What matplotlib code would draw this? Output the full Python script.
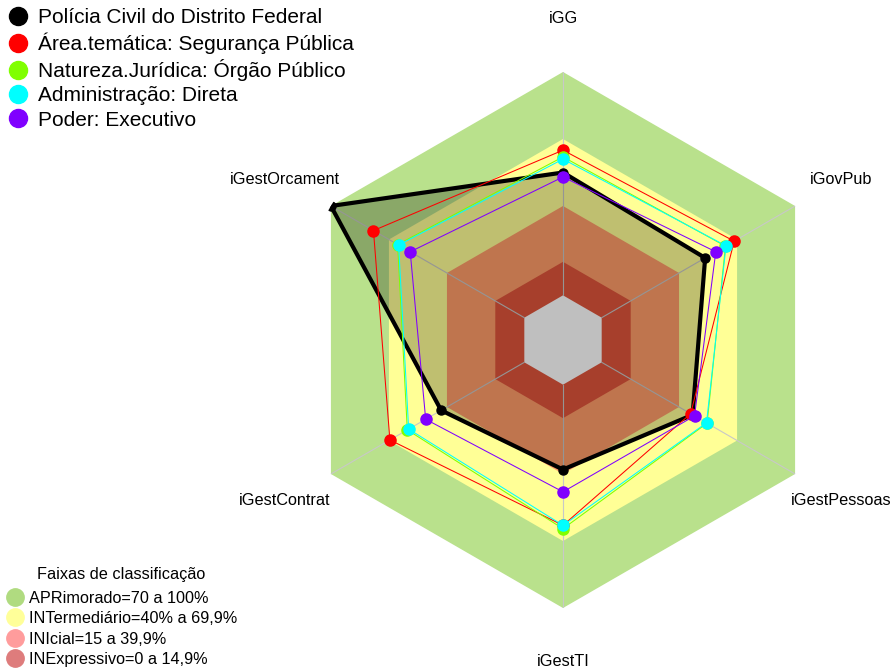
import numpy as np
import matplotlib
matplotlib.use("Agg")
import matplotlib.pyplot as plt
from matplotlib.lines import Line2D

plt.rcParams['font.family'] = ['Liberation Sans', 'DejaVu Sans']

categories = ['iGG', 'iGovPub', 'iGestPessoas', 'iGestTI', 'iGestContrat', 'iGestOrcament']

series_names = ['Polícia Civil do Distrito Federal',
                'Área.temática: Segurança Pública',
                'Natureza.Jurídica: Órgão Público',
                'Administração: Direta',
                'Poder: Executivo']
pcdf      = [55, 53.5, 47, 38, 43, 100]
seguranca = [65, 68.5, 46, 63, 69.5, 78]
orgao     = [62, 64, 54.5, 64.5, 60.5, 65.5]
direta    = [61, 64.3, 54.2, 63, 59.8, 65]
executivo = [53, 59, 48, 48, 51, 59]
series_values = [pcdf, seguranca, orgao, direta, executivo]
series_colors = ['#000000', '#ff0000', '#80ff00', '#00ffff', '#8000ff']

band_labels = ['APRimorado=70 a 100%', 'INTermediário=40% a 69,9%',
               'INIcial=15 a 39,9%', 'INExpressivo=0 a 14,9%']
band_limits = [100, 70, 40, 15]
band_colors = ['#b9e18c', '#ffff96', '#ff9d69', '#e0553b']
band_legend_colors = ['#b0db80', '#ffff99', '#ff9c9c', '#de7c7c']

W, H = 896, 672
fig = plt.figure(figsize=(W / 100, H / 100), dpi=100)
cx, cy, R = 563, 340, 268
ax = fig.add_axes([(cx - R) / W, (H - cy - R) / H, 2 * R / W, 2 * R / H], projection='polar')
ax.set_theta_zero_location('N')
ax.set_theta_direction(-1)
ax.set_rlim(-20, 100)
ax.grid(False)
ax.set_xticks([])
ax.set_yticks([])
ax.spines['polar'].set_visible(False)
ax.patch.set_visible(False)

n = len(categories)
theta = np.arange(n) * 2 * np.pi / n
theta_c = np.append(theta, theta[0])

# bands
for lim, col in zip(band_limits, band_colors):
    ax.fill(theta_c, [lim] * (n + 1), color=col, lw=0, zorder=1)
ax.fill(theta_c, [0] * (n + 1), color='white', lw=0, zorder=1)

# spokes
for t in theta:
    ax.plot([t, t], [0, 100], color='#c8c8c8', lw=0.8, zorder=2)

# series
for i, (vals, col) in enumerate(zip(series_values, series_colors)):
    v = np.append(vals, vals[0])
    if i == 0:
        ax.fill(theta_c, v, color='black', alpha=0.25, lw=0, zorder=3)
        ax.plot(theta_c, v, color=col, lw=3, zorder=4, solid_joinstyle='miter')
        ax.plot(theta, vals, 'o', color=col, ms=6.5, zorder=4)
    else:
        ax.plot(theta_c, v, color=col, lw=0.75, zorder=4 + i)
        ax.plot(theta, vals, 'o', color=col, ms=8, zorder=4 + i)

for t, lab in zip(theta, categories):
    ax.text(t, 124, lab, ha='center', va='center', fontsize=11.7, clip_on=False)

# legend of series
h1 = [Line2D([], [], marker='o', ls='none', color=c, ms=13) for c in series_colors]
leg1 = fig.legend(h1, series_names, loc='upper left', bbox_to_anchor=(0.003, 0.9955),
                  frameon=False, fontsize=15, handletextpad=0.45, labelspacing=0.25,
                  borderaxespad=0.15, handlelength=1.0, borderpad=0.1)

# legend of bands
h2 = [Line2D([], [], marker='o', ls='none', color=c, ms=12.5) for c in band_legend_colors]
leg2 = fig.legend(h2, band_labels, loc='lower left', bbox_to_anchor=(0.0, 0.0),
                  frameon=False, fontsize=11.7, handletextpad=0.3, labelspacing=0.34,
                  borderaxespad=0.2, handlelength=1.2, borderpad=0.1,
                  title='Faixas de classificação', title_fontsize=11.7)
leg2._legend_box.sep = 6.5

fig.savefig('out.png', dpi=100)
